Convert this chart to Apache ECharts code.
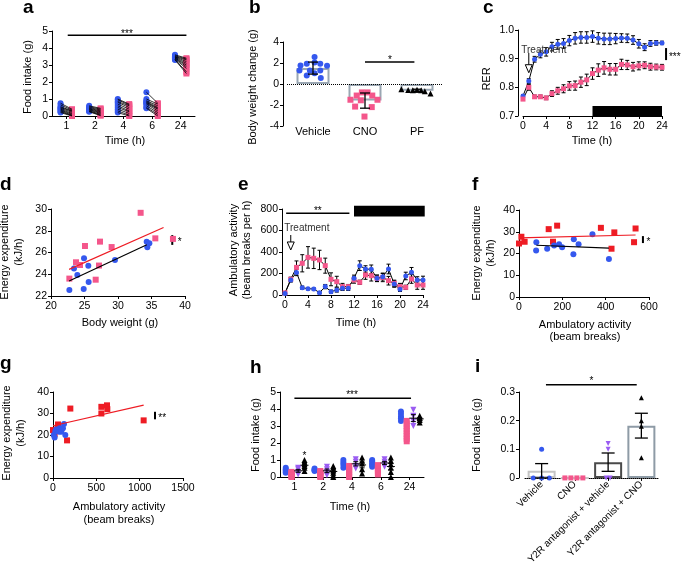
<!DOCTYPE html>
<html><head><meta charset="utf-8">
<script src="https://cdn.jsdelivr.net/npm/echarts@6/dist/echarts.min.js"></script>
<style>html,body{margin:0;padding:0;background:#fff}#c{width:683px;height:567px}</style>
</head><body><div id="c"></div>
<script>
// ================= DATA =================
// Panel a: food intake (g), 10 mice, paired vehicle vs CNO
const aTimes = ['1','2','4','6','24'];
const aVehicle = [
  [0.75,0.65,0.55,0.5,0.45,0.4,0.35,0.3,0.25,0.2],
  [0.6,0.55,0.5,0.45,0.42,0.38,0.35,0.3,0.28,0.25],
  [1.0,0.95,0.85,0.8,0.7,0.6,0.5,0.4,0.3,0.2],
  [1.4,1.0,0.9,0.85,0.8,0.75,0.7,0.6,0.5,0.45],
  [3.6,3.55,3.5,3.48,3.45,3.42,3.4,3.35,3.32,3.3]
];
const aCNO = [
  [0.4,0.35,0.3,0.28,0.22,0.15,0.1,0.05,0.02,0],
  [0.45,0.4,0.35,0.3,0.25,0.2,0.15,0.1,0.05,0.02],
  [0.7,0.65,0.6,0.5,0.4,0.3,0.25,0.15,0.05,0],
  [0.75,0.7,0.6,0.5,0.45,0.4,0.3,0.2,0.1,0],
  [3.4,3.35,3.3,3.2,3.1,3.0,2.9,2.8,2.6,2.5]
];
// Panel b: body weight change (g)
const bGroups = ['Vehicle','CNO','PF'];
const bVehicle = [2.56,1.76,1.92,2.05,1.92,1.73,1.28,1.28,1.28,1.02,0.8,0.58];
const bVehicleJit = [0.03,-0.24,-0.12,0.03,0.14,0.27,-0.26,-0.06,0.14,0.03,-0.12,0.15];
const bCNO = [-0.8,-0.8,-1.1,-1.1,-1.5,-1.5,-1.55,-2.15,-2.2,-3.1];
const bCNOJit = [-0.06,0.05,-0.16,0.14,-0.28,0.24,-0.08,-0.19,0.13,-0.01];
const bPF = [-0.5,-0.58,-0.6,-0.55,-0.6,-0.7,-0.9];
const bPFJit = [-0.3,-0.17,-0.08,0,0.08,0.15,0.26];
// Panel c: RER, hourly 0..24
const cHours = [0,1,2,3,4,5,6,7,8,9,10,11,12,13,14,15,16,17,18,19,20,21,22,23,24];
const cVehicle = [0.77,0.822,0.898,0.915,0.924,0.942,0.95,0.953,0.963,0.971,0.974,0.974,0.977,0.971,0.969,0.969,0.97,0.972,0.971,0.965,0.952,0.94,0.953,0.955,0.955];
const cVehicleErr = [0.005,0.008,0.01,0.012,0.015,0.015,0.017,0.017,0.018,0.02,0.02,0.02,0.02,0.02,0.02,0.02,0.018,0.015,0.015,0.015,0.015,0.012,0.01,0.008,0.006];
const cCNO = [0.759,0.80,0.767,0.767,0.763,0.778,0.788,0.795,0.805,0.806,0.818,0.826,0.848,0.86,0.868,0.863,0.863,0.88,0.878,0.872,0.875,0.877,0.872,0.871,0.87];
const cCNOErr = [0.005,0.01,0.006,0.006,0.006,0.01,0.012,0.014,0.015,0.016,0.018,0.02,0.02,0.022,0.022,0.02,0.02,0.018,0.016,0.015,0.014,0.012,0.012,0.01,0.01];
// Panel d: energy expenditure vs body weight
const dCNO = [[22.74,23.6],[23.73,25.1],[24.33,24.85],[25.07,26.6],[27.31,27.0],[27.16,24.8],[26.67,23.5],[29.05,26.5],[33.38,29.65],[35.57,27.3],[38.2,27.25]];
const dVehicle = [[22.74,22.55],[23.43,24.52],[23.93,23.93],[24.93,25.47],[24.88,22.64],[25.57,24.79],[25.62,23.29],[29.55,25.31],[34.28,27.0],[34.38,26.48],[34.68,26.85]];
const dFitCNO = [22.7,24.45,36.8,28.3];
const dFitVehicle = [22.7,23.38,34.3,26.72];
// Panel e: ambulatory activity, hourly
const eVehicle = [15,140,210,68,59,56,22,78,31,47,62,62,155,273,242,239,155,170,242,102,53,177,211,140,140];
const eVehicleErr = [10,20,30,15,10,10,10,20,15,20,20,20,30,45,30,40,30,30,45,30,20,35,45,30,35];
const eCNO = [20,146,257,295,350,341,326,273,146,124,78,78,140,118,186,180,155,164,133,108,78,71,149,93,93];
const eCNOErr = [10,20,60,80,100,95,90,70,60,50,30,20,30,20,40,50,30,40,40,30,30,20,40,40,40];
// Panel f: energy expenditure vs ambulatory activity
const fCNO = [[0,24.6],[11,27.7],[26,25.4],[137,31.2],[157,25.4],[176,32.8],[378,31.8],[427,22.2],[440,29.7],[531,25.2],[538,31.5]];
const fVehicle = [[80,25.2],[79,21.4],[130,22.2],[162,23.7],[185,24.3],[199,22.9],[253,26.5],[251,19.7],[275,24.3],[339,28.8],[415,17.5]];
const fFitCNO = [0,27.2,538,28.5];
const fFitVehicle = [80,23.8,415,22.5];
// Panel g
const gCNO = [[0,22.3],[19,20.5],[46,22.6],[58,24.9],[96,23.1],[162,17.5],[200,32.3],[558,33.1],[558,30],[623,33.8],[627,32],[1046,26.8]];
const gVehicle = [[8,20],[19,18.8],[27,21.8],[38,22.6],[69,21.5],[77,23.1],[96,21.5],[115,23.1],[127,25.1],[142,20]];
const gFitCNO = [0,24.3,1046,33.9];
// Panel h: food intake, 4 groups
const hTimes = ['1','2','4','6','24'];
const hVehicle = [[0.25,0.3,0.38,0.45,0.55],[0.35,0.4,0.42,0.5],[0.55,0.72,0.85,1.0],[0.6,0.7,0.8,0.92,1.0],[3.3,3.45,3.55,3.7,3.85]];
const hCNO = [[0,0.05,0.1,0.15,0.2,0.25,0.3],[0,0.05,0.1,0.17,0.24,0.3,0.35],[0,0.1,0.2,0.3,0.4,0.5,0.6,0.65],[0.15,0.25,0.35,0.45,0.55,0.65,0.7],[2.1,2.25,2.4,2.55,2.7,2.85,3.0,3.15,3.3]];
const hY2RVehicle = [[0.15,0.3,0.45,0.55],[0.1,0.3,0.45,0.6],[0.5,0.65,0.9,1.05],[0.6,0.75,0.9,1.05],[3.0,3.3,3.6,3.95]];
const hY2RCNO = [[0.35,0.55,0.65,0.75,0.85,1.0],[0,0.1,0.25,0.4,0.55,0.65],[0.2,0.45,0.8,0.95,1.15],[0,0.3,0.55,0.75,0.95,1.15],[3.2,3.35,3.45,3.5,3.6]];
// Panel i
const iGroups = ['Vehicle','CNO','Y2R antagonist + vehicle','Y2R antagonist + CNO'];
const iValues = [[0.1,0,0,0],[0,0,0,0],[0.12,0.1,0,0],[0.28,0.2,0.18,0.07]];
const iJit = [[0,-0.25,0,0.23],[-0.3,-0.12,0.06,0.24],[0,0,-0.06,0.06],[0,0,0,0]];

// ================= STYLE / HELPERS =================
const BLUE='#3558ee', PINK='#f4568b', PURPLE='#9a5cf2', RED='#ee1c24';
const FAM='Liberation Sans, Arial, Helvetica, sans-serif';
const FONT='"Liberation Sans", Arial, Helvetica, sans-serif';
const TICK_FS = 10.5;
const mean = a => a.reduce((s,v)=>s+v,0)/a.length;
const sd = a => { const m=mean(a); return Math.sqrt(a.reduce((s,v)=>s+(v-m)*(v-m),0)/(a.length-1)); };
const sem = a => sd(a)/Math.sqrt(a.length);

const lbl = (o={}) => Object.assign({color:'#000',fontSize:TICK_FS,fontFamily:FAM,margin:4,formatter:v=>String(v)}, o);
const axLine = {show:true,onZero:false,lineStyle:{color:'#000',width:1}};
const axTick = {show:true,length:3,lineStyle:{color:'#000',width:1}};
function vAxis(grid, min, max, interval, extra){
  return Object.assign({type:'value',gridIndex:grid,min,max,interval,axisLine:axLine,axisTick:axTick,
    axisLabel:lbl(),splitLine:{show:false}}, extra||{});
}
function hidden(grid,min,max){ return {type:'value',gridIndex:grid,min,max,show:false}; }
function catAxis(grid,data,extra){
  return Object.assign({type:'category',gridIndex:grid,data,axisLine:axLine,
    axisTick:{show:true,length:3,alignWithLabel:true,lineStyle:{color:'#000'}},axisLabel:lbl({margin:5}),splitLine:{show:false}}, extra||{});
}
function scat(xi,yi,data,symbol,color,size,rot){
  return {type:'scatter',xAxisIndex:xi,yAxisIndex:yi,data,symbol,symbolSize:size||6,symbolRotate:rot||0,
    itemStyle:{color,opacity:1},silent:true,z:3};
}
function segs(xi,yi,rows,color,width,z){
  return {type:'custom',xAxisIndex:xi,yAxisIndex:yi,data:rows,clip:false,silent:true,z:z||2,
    encode:{x:[0,2],y:[1,3]},
    renderItem(p,api){
      const a=api.coord([api.value(0),api.value(1)]), b=api.coord([api.value(2),api.value(3)]);
      return {type:'line',shape:{x1:a[0],y1:a[1],x2:b[0],y2:b[1]},style:{stroke:color,lineWidth:width}};
    }};
}
function errs(xi,yi,rows,capW,meanW,width,z){
  return {type:'custom',xAxisIndex:xi,yAxisIndex:yi,data:rows,clip:false,silent:true,z:z||4,
    encode:{x:0,y:[1,2,3]},
    renderItem(p,api){
      const x=api.value(0);
      const m=api.coord([x,api.value(1)]), lo=api.coord([x,api.value(2)]), hi=api.coord([x,api.value(3)]);
      const st={stroke:'#000',lineWidth:width||1};
      const ch=[{type:'line',shape:{x1:lo[0],y1:lo[1],x2:hi[0],y2:hi[1]},style:st},
        {type:'line',shape:{x1:lo[0]-capW/2,y1:lo[1],x2:lo[0]+capW/2,y2:lo[1]},style:st},
        {type:'line',shape:{x1:hi[0]-capW/2,y1:hi[1],x2:hi[0]+capW/2,y2:hi[1]},style:st}];
      if(meanW) ch.push({type:'line',shape:{x1:m[0]-meanW/2,y1:m[1],x2:m[0]+meanW/2,y2:m[1]},style:st});
      return {type:'group',children:ch};
    }};
}
function rects(xi,yi,rows,color){
  return {type:'custom',xAxisIndex:xi,yAxisIndex:yi,data:rows,clip:false,silent:true,z:2,
    encode:{x:[0,2],y:[1,3]},
    renderItem(p,api){
      const a=api.coord([api.value(0),api.value(1)]), b=api.coord([api.value(2),api.value(3)]);
      return {type:'rect',shape:{x:Math.min(a[0],b[0]),y:Math.min(a[1],b[1]),width:Math.abs(b[0]-a[0]),height:Math.abs(b[1]-a[1])},style:{fill:color}};
    }};
}
function texts(xi,yi,rows,strs,o={}){
  return {type:'custom',xAxisIndex:xi,yAxisIndex:yi,data:rows,clip:false,silent:true,z:6,
    encode:{x:0,y:1},
    renderItem(p,api){
      const pt=api.coord([api.value(0),api.value(1)]);
      return {type:'text',x:pt[0],y:pt[1],style:{text:strs[p.dataIndex],fill:o.color||'#000',
        font:(o.size||10)+'px '+FONT,align:o.align||'center',verticalAlign:'middle'}};
    }};
}
function arrows(xi,yi,rows){
  return {type:'custom',xAxisIndex:xi,yAxisIndex:yi,data:rows,clip:false,silent:true,z:6,
    encode:{x:0,y:[1,2]},
    renderItem(p,api){
      const t=api.coord([api.value(0),api.value(1)]), b=api.coord([api.value(0),api.value(2)]);
      const hh=8, hw=3.5;
      return {type:'group',children:[
        {type:'line',shape:{x1:t[0],y1:t[1],x2:b[0],y2:b[1]-hh},style:{stroke:'#000',lineWidth:1}},
        {type:'polygon',shape:{points:[[b[0]-hw,b[1]-hh],[b[0]+hw,b[1]-hh],[b[0],b[1]]]},style:{fill:'#fff',stroke:'#000',lineWidth:1}}
      ]};
    }};
}
function lineSer(xi,yi,xs,ys,symbol,color){
  return {type:'line',xAxisIndex:xi,yAxisIndex:yi,data:xs.map((x,i)=>[x,ys[i]]),symbol,symbolSize:5,showSymbol:true,
    itemStyle:{color},lineStyle:{color:'#000',width:1},silent:true,z:5};
}
function gtext(x,y,s,o={}){
  return {type:'text',x,y,rotation:o.rot||0,silent:true,
    style:{text:s,fill:'#000',font:(o.bold?'bold ':'')+(o.size||11)+'px '+FONT,
      align:o.align||'center',verticalAlign:'middle',lineHeight:o.lh||13.5}};
}

// ================= LAYOUT =================
const grids = [
  {left:52,top:31,width:143,height:85},   // a
  {left:287,top:42,width:156,height:84},  // b
  {left:523,top:30,width:139,height:86},  // c
  {left:51,top:209,width:134,height:87},  // d
  {left:285,top:209,width:138,height:86}, // e
  {left:519,top:210,width:130,height:87}, // f
  {left:53,top:392,width:130,height:86},  // g
  {left:280,top:392,width:144,height:85}, // h
  {left:525,top:392,width:133,height:86}  // i
];

const xAxis = [
  catAxis(0,aTimes),                 //0
  hidden(0,-0.5,4.5),                //1
  catAxis(1,bGroups,{axisLine:{show:false},axisTick:{show:false},axisLabel:lbl({margin:0,fontSize:11})}), //2
  hidden(1,-0.5,2.5),                //3
  vAxis(2,0,24,4,{axisLabel:lbl({margin:5})}),    //4
  vAxis(3,20,40,5,{axisLabel:lbl({margin:5})}),   //5
  vAxis(4,0,24,4,{axisLabel:lbl({margin:5})}),    //6
  vAxis(5,0,600,200,{axisLabel:lbl({margin:5})}), //7
  vAxis(6,0,1500,500,{axisLabel:lbl({margin:5})}),//8
  catAxis(7,hTimes),                 //9
  hidden(7,-0.5,4.5),                //10
  catAxis(8,iGroups,{axisLine:{show:true,lineStyle:{color:'#000',type:'dotted',width:1}},
     axisLabel:lbl({rotate:45,margin:5,interval:0,fontSize:10})}), //11
  hidden(8,-0.5,3.5)                 //12
];
const yAxis = [
  vAxis(0,0,5,1),
  vAxis(1,-4,4,2,{offset:4}),
  vAxis(2,0.7,1.0,0.1,{offset:5,axisLabel:lbl({formatter:v=>v.toFixed(1)})}),
  vAxis(3,22,30,2),
  vAxis(4,0,800,200,{offset:3}),
  vAxis(5,0,40,10),
  vAxis(6,0,40,10),
  vAxis(7,0,5,1),
  vAxis(8,0,0.3,0.1,{offset:6,axisLabel:lbl({formatter:v=>v===0?'0':v.toFixed(1)})})
];

const series = [];
// ---- a
const aOff = 0.2;
const aPairs=[], aB=[], aP=[];
aTimes.forEach((t,ti)=>{ aVehicle[ti].forEach((v,k)=>{ aB.push([ti-aOff,v]); aP.push([ti+aOff,aCNO[ti][k]]); aPairs.push([ti-aOff,v,ti+aOff,aCNO[ti][k]]); }); });
series.push(scat(1,0,aB,'circle',BLUE,6), scat(1,0,aP,'rect',PINK,6), segs(1,0,aPairs,'#000',0.8,4));
series.push(segs(1,0,[[0.05,4.75,4.2,4.75]],'#000',1.5), texts(1,0,[[2.12,4.8]],['***']));
// ---- b
const bSets=[[bVehicle,bVehicleJit,'circle',BLUE],[bCNO,bCNOJit,'rect',PINK],[bPF,bPFJit,'triangle','#000']];
series.push({type:'bar',xAxisIndex:2,yAxisIndex:1,data:[mean(bVehicle),mean(bCNO),mean(bPF)],barWidth:33,silent:true,z:2,
  itemStyle:{color:'rgba(255,255,255,0)',borderColor:'#9aa7b3',borderWidth:2},
  markLine:{silent:true,symbol:['none','none'],label:{show:false},lineStyle:{color:'#000',type:'dotted',width:1},data:[{yAxis:0}]}});
bSets.forEach(([vals,jit,sym,col],gi)=>{ series.push(scat(3,1,vals.map((v,k)=>[gi+jit[k],v]),sym,col,6)); });
series.push(errs(3,1,bSets.map(([vals],gi)=>{const m=mean(vals),s=sd(vals);return [gi,m,m-s,m+s];}),10,0,1.3));
series.push(segs(3,1,[[1.0,2.1,1.95,2.1]],'#000',1.5), texts(3,1,[[1.48,2.3]],['*']));
// ---- c
series.push(rects(4,2,[[12,0.7,24,0.735]],'#000'));
series.push(errs(4,2,cHours.map((h,i)=>[h,cVehicle[i],cVehicle[i]-cVehicleErr[i],cVehicle[i]+cVehicleErr[i]]),4,0,1));
series.push(errs(4,2,cHours.map((h,i)=>[h,cCNO[i],cCNO[i]-cCNOErr[i],cCNO[i]+cCNOErr[i]]),4,0,1));
series.push(lineSer(4,2,cHours,cVehicle,'circle',BLUE), lineSer(4,2,cHours,cCNO,'rect',PINK));
series.push(texts(4,2,[[3.6,0.930]],['Treatment'],{color:'#333'}), arrows(4,2,[[1,0.92,0.851]]));
series.push(segs(4,2,[[24.7,0.895,24.7,0.937]],'#000',2), texts(4,2,[[25.2,0.904]],['***'],{align:'left'}));
// ---- d
series.push(scat(5,3,dCNO,'rect',PINK,6), scat(5,3,dVehicle,'circle',BLUE,6));
series.push(segs(5,3,[dFitCNO],RED,1.2,4), segs(5,3,[dFitVehicle],'#000',1.2,4));
series.push(segs(5,3,[[38.1,26.7,38.1,27.6]],'#000',2), texts(5,3,[[38.9,26.9]],['*'],{align:'left'}));
// ---- e
series.push(rects(6,4,[[12,730,24.3,830]],'#000'));
series.push(segs(6,4,[[0.2,760,11.2,760]],'#000',1.5), texts(6,4,[[5.7,783]],['**']));
series.push(errs(6,4,cHours.map((h,i)=>[h,eVehicle[i],eVehicle[i]-eVehicleErr[i],eVehicle[i]+eVehicleErr[i]]),4,0,1));
series.push(errs(6,4,cHours.map((h,i)=>[h,eCNO[i],eCNO[i]-eCNOErr[i],eCNO[i]+eCNOErr[i]]),4,0,1));
series.push(lineSer(6,4,cHours,eCNO,'rect',PINK), lineSer(6,4,cHours,eVehicle,'circle',BLUE));
series.push(texts(6,4,[[3.8,623]],['Treatment'],{color:'#333'}), arrows(6,4,[[1,558,419]]));
// ---- f
series.push(scat(7,5,fCNO,'rect',RED,6), scat(7,5,fVehicle,'circle',BLUE,6));
series.push(segs(7,5,[fFitCNO],RED,1.2,4), segs(7,5,[fFitVehicle],'#000',1.2,4));
series.push(segs(7,5,[[572,24.8,572,28]],'#000',2), texts(7,5,[[588,25.1]],['*'],{align:'left'}));
// ---- g
series.push(scat(8,6,gCNO,'rect',RED,6), scat(8,6,gVehicle,'circle',BLUE,6));
series.push(segs(8,6,[gFitCNO],RED,1.2,4));
series.push(segs(8,6,[[1177,27.3,1177,30.8]],'#000',2), texts(8,6,[[1215,27.9]],['**'],{align:'left'}));
// ---- h
const hOff=[-0.3,-0.1,0.13,0.35];
const hSets=[[hVehicle,'circle',BLUE,0],[hCNO,'rect',PINK,0],[hY2RVehicle,'triangle',PURPLE,180],[hY2RCNO,'triangle','#000',0]];
hSets.forEach(([arr,sym,col,rot],gi)=>{
  const pts=[]; arr.forEach((vals,ti)=>vals.forEach(v=>pts.push([ti+hOff[gi],v])));
  series.push(scat(10,7,pts,sym,col,6,rot));
});
[2,3].forEach(gi=>{
  series.push(errs(10,7,hSets[gi][0].map((vals,ti)=>{const m=mean(vals),s=sem(vals);return [ti+hOff[gi],m,m-s,m+s];}),5,8,1,5));
});
series.push(segs(10,7,[[0,4.63,4.05,4.63]],'#000',1.5), texts(10,7,[[2.0,4.78],[0.35,1.25]],['***','*']));
// ---- i
const iCols=['#c4c4c4','#c4c4c4','#4a4a4a','#8e9ba6'];
const iSyms=[['circle',BLUE,0],['rect',PINK,0],['triangle',PURPLE,180],['triangle','#000',0]];
series.push({type:'bar',xAxisIndex:11,yAxisIndex:8,barWidth:28,silent:true,z:2,
  data:iValues.map((v,gi)=>({value:mean(v),itemStyle:{color:'rgba(255,255,255,0)',borderColor:iCols[gi],borderWidth:2}}))});
iValues.forEach((vals,gi)=>series.push(scat(12,8,vals.map((v,k)=>[gi+iJit[gi][k],v]),iSyms[gi][0],iSyms[gi][1],5,iSyms[gi][2])));
series.push(errs(12,8,iValues.map((vals,gi)=>{const m=mean(vals),s=sem(vals);return [gi,m,m-s,m+s];}).filter(r=>r[3]>r[2]),13,0,1.3));
series.push(segs(12,8,[[0.13,0.325,2.86,0.325]],'#000',1.5), texts(12,8,[[1.5,0.336]],['*']));

// ================= TEXT =================
const R=Math.PI/2;
const gfx = [
  gtext(23,8,'a',{bold:true,size:19,align:'left'}),
  gtext(249,8,'b',{bold:true,size:19,align:'left'}),
  gtext(483,8,'c',{bold:true,size:19,align:'left'}),
  gtext(0,185,'d',{bold:true,size:19,align:'left'}),
  gtext(238,185,'e',{bold:true,size:19,align:'left'}),
  gtext(472,185,'f',{bold:true,size:19,align:'left'}),
  gtext(0,364,'g',{bold:true,size:19,align:'left'}),
  gtext(250,368,'h',{bold:true,size:19,align:'left'}),
  gtext(475,367,'i',{bold:true,size:19,align:'left'}),
  gtext(28,77,'Food intake (g)',{rot:R}),
  gtext(125,141,'Time (h)'),
  gtext(253,87,'Body weight change (g)',{rot:R}),
  gtext(487,79,'RER',{rot:R}),
  gtext(592,141,'Time (h)'),
  gtext(12,252,'Energy expenditure\n(kJ/h)',{rot:R,lh:14}),
  gtext(120,323,'Body weight (g)'),
  gtext(240,250,'Ambulatory activity\n(beam breaks per h)',{rot:R,lh:13}),
  gtext(356,323,'Time (h)'),
  gtext(484,253,'Energy expenditure\n(kJ/h)',{rot:R,lh:14}),
  gtext(585,331,'Ambulatory activity\n(beam breaks)',{lh:12.5}),
  gtext(14,433,'Energy expenditure\n(kJ/h)',{rot:R,lh:14}),
  gtext(119,513,'Ambulatory activity\n(beam breaks)',{lh:13}),
  gtext(256,435,'Food intake (g)',{rot:R}),
  gtext(350,507,'Time (h)'),
  gtext(477,435,'Food intake (g)',{rot:R})
];

const chart = echarts.init(document.getElementById('c'), null, {renderer:'canvas'});
chart.setOption({
  animation:false, backgroundColor:'#fff',
  textStyle:{fontFamily:FAM},
  grid:grids, xAxis, yAxis, series,
  graphic:{elements:gfx}
});
</script></body></html>
